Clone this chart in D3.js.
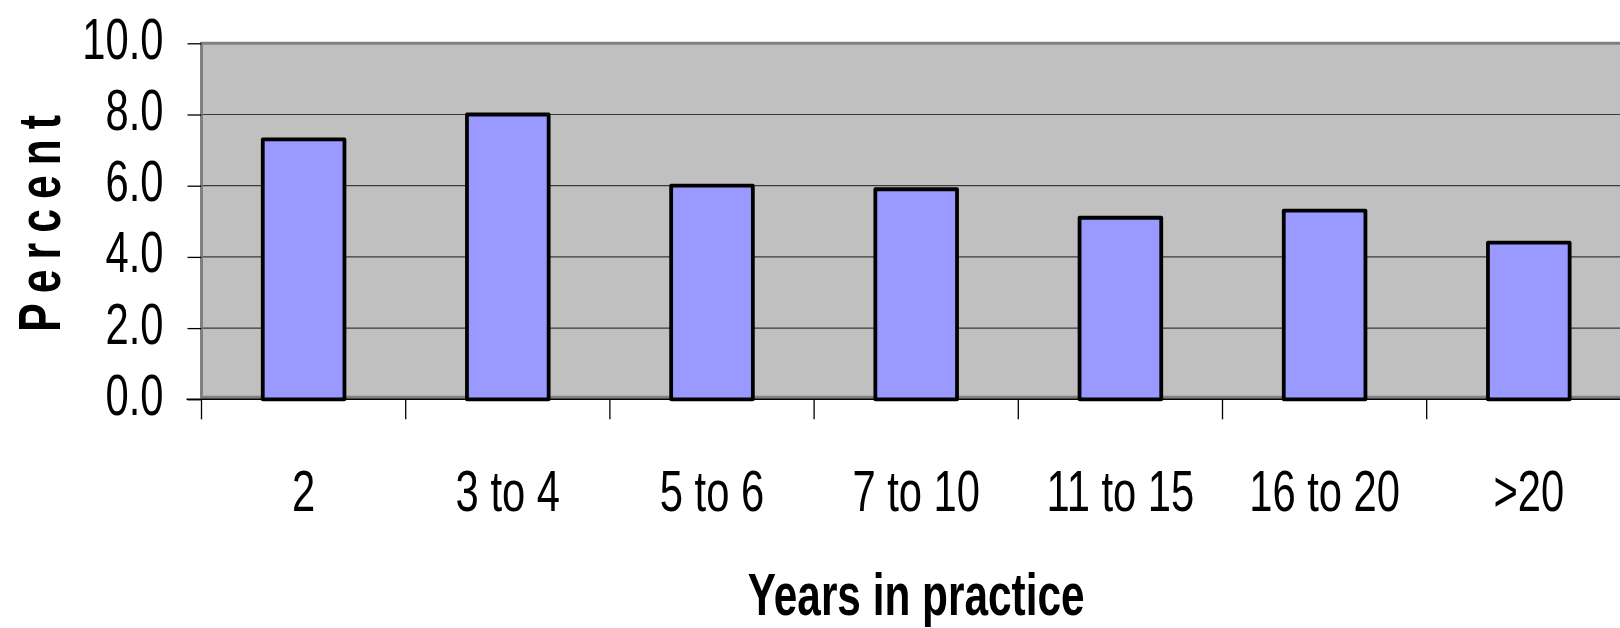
<!DOCTYPE html>
<html>
<head>
<meta charset="utf-8">
<script src="https://cdn.jsdelivr.net/npm/d3@7"></script>
<style>
  html, body { margin: 0; padding: 0; background: #ffffff; }
  svg { display: block; }
  text { font-family: "Liberation Sans", Arial, sans-serif; fill: #000; }
</style>
</head>
<body>
<svg id="chart" width="1620" height="628"></svg>
<script>
// Share of respondents by years in practice
const categories = ["2", "3 to 4", "5 to 6", "7 to 10", "11 to 15", "16 to 20", ">20"];
const percentValues = [7.3, 8.0, 6.0, 5.9, 5.1, 5.3, 4.4];
const yTickValues = [0, 2, 4, 6, 8, 10];
const xTitle = "Years in practice";
const yTitle = "Percent";

const W = 1620, H = 628;
const plot = { left: 201.5, top: 43.3, bottom: 399.3, step: 204.2 };
plot.right = plot.left + plot.step * categories.length;

const condense = 0.72;   // narrow typeface look

const svg = d3.select("#chart");

const x = d3.scaleBand()
  .domain(categories)
  .range([plot.left, plot.right])
  .paddingInner(0.6)
  .paddingOuter(0.3);

const y = d3.scaleLinear()
  .domain([0, 10])
  .range([plot.bottom, plot.top]);

// plot area background
svg.append("rect")
  .attr("x", plot.left)
  .attr("y", plot.top)
  .attr("width", plot.right - plot.left)
  .attr("height", plot.bottom - plot.top)
  .attr("fill", "#c0c0c0");

// horizontal gridlines
svg.append("g")
  .selectAll("line")
  .data(yTickValues.filter(v => v > 0 && v < 10))
  .join("line")
  .attr("x1", plot.left)
  .attr("x2", plot.right)
  .attr("y1", d => y(d))
  .attr("y2", d => y(d))
  .attr("stroke", "#3a3a3a")
  .attr("stroke-width", 1.2);

// plot area border (top, left, bottom)
svg.append("path")
  .attr("d", `M${plot.right},${plot.top} L${plot.left},${plot.top} L${plot.left},${plot.bottom - 2} L${plot.right},${plot.bottom - 2}`)
  .attr("fill", "none")
  .attr("stroke", "#808080")
  .attr("stroke-width", 3);

// bars
svg.append("g")
  .selectAll("rect")
  .data(categories.map((c, i) => ({ c, v: percentValues[i] })))
  .join("rect")
  .attr("x", d => x(d.c))
  .attr("width", x.bandwidth())
  .attr("y", d => y(d.v))
  .attr("height", d => y(0) - y(d.v))
  .attr("fill", "#9999ff")
  .attr("stroke", "#000")
  .attr("stroke-width", 3.8)
  .attr("stroke-linejoin", "round");

// y axis ticks and labels
const yAxis = d3.axisLeft(y).tickValues(yTickValues).tickSize(14).tickFormat(d3.format(".1f"));
const gy = svg.append("g").attr("transform", `translate(${plot.left},0)`).call(yAxis);
gy.select(".domain").remove();
gy.selectAll(".tick line").attr("stroke", "#000").attr("stroke-width", 1.3);
gy.selectAll(".tick text").remove();
gy.selectAll(".tick").append("text")
  .attr("transform", `translate(-38,15) scale(${condense},1)`)
  .attr("text-anchor", "end")
  .attr("font-size", 58)
  .text(d => d3.format(".1f")(d));

// x axis line and category boundary ticks
svg.append("line")
  .attr("x1", plot.left - 15)
  .attr("x2", plot.right)
  .attr("y1", plot.bottom)
  .attr("y2", plot.bottom)
  .attr("stroke", "#000")
  .attr("stroke-width", 1.5);

svg.append("g")
  .selectAll("line")
  .data(d3.range(categories.length + 1))
  .join("line")
  .attr("x1", i => plot.left + i * x.step())
  .attr("x2", i => plot.left + i * x.step())
  .attr("y1", plot.bottom)
  .attr("y2", plot.bottom + 20)
  .attr("stroke", "#000")
  .attr("stroke-width", 1.3);

// category labels
svg.append("g")
  .selectAll("text")
  .data(categories)
  .join("text")
  .attr("transform", d => `translate(${x(d) + x.bandwidth() / 2},511) scale(${condense},1)`)
  .attr("text-anchor", "middle")
  .attr("font-size", 58)
  .text(d => d);

// axis titles
svg.append("text")
  .attr("transform", `translate(${(plot.left + plot.right) / 2},615) scale(0.706,1)`)
  .attr("text-anchor", "middle")
  .attr("font-size", 60)
  .attr("font-weight", "bold")
  .text(xTitle);

svg.append("text")
  .attr("transform", `translate(60,331.7) rotate(-90) scale(0.71,1)`)
  .attr("text-anchor", "start")
  .attr("font-size", 60)
  .attr("font-weight", "bold")
  .attr("letter-spacing", 14.2)
  .text(yTitle);
</script>
</body>
</html>
